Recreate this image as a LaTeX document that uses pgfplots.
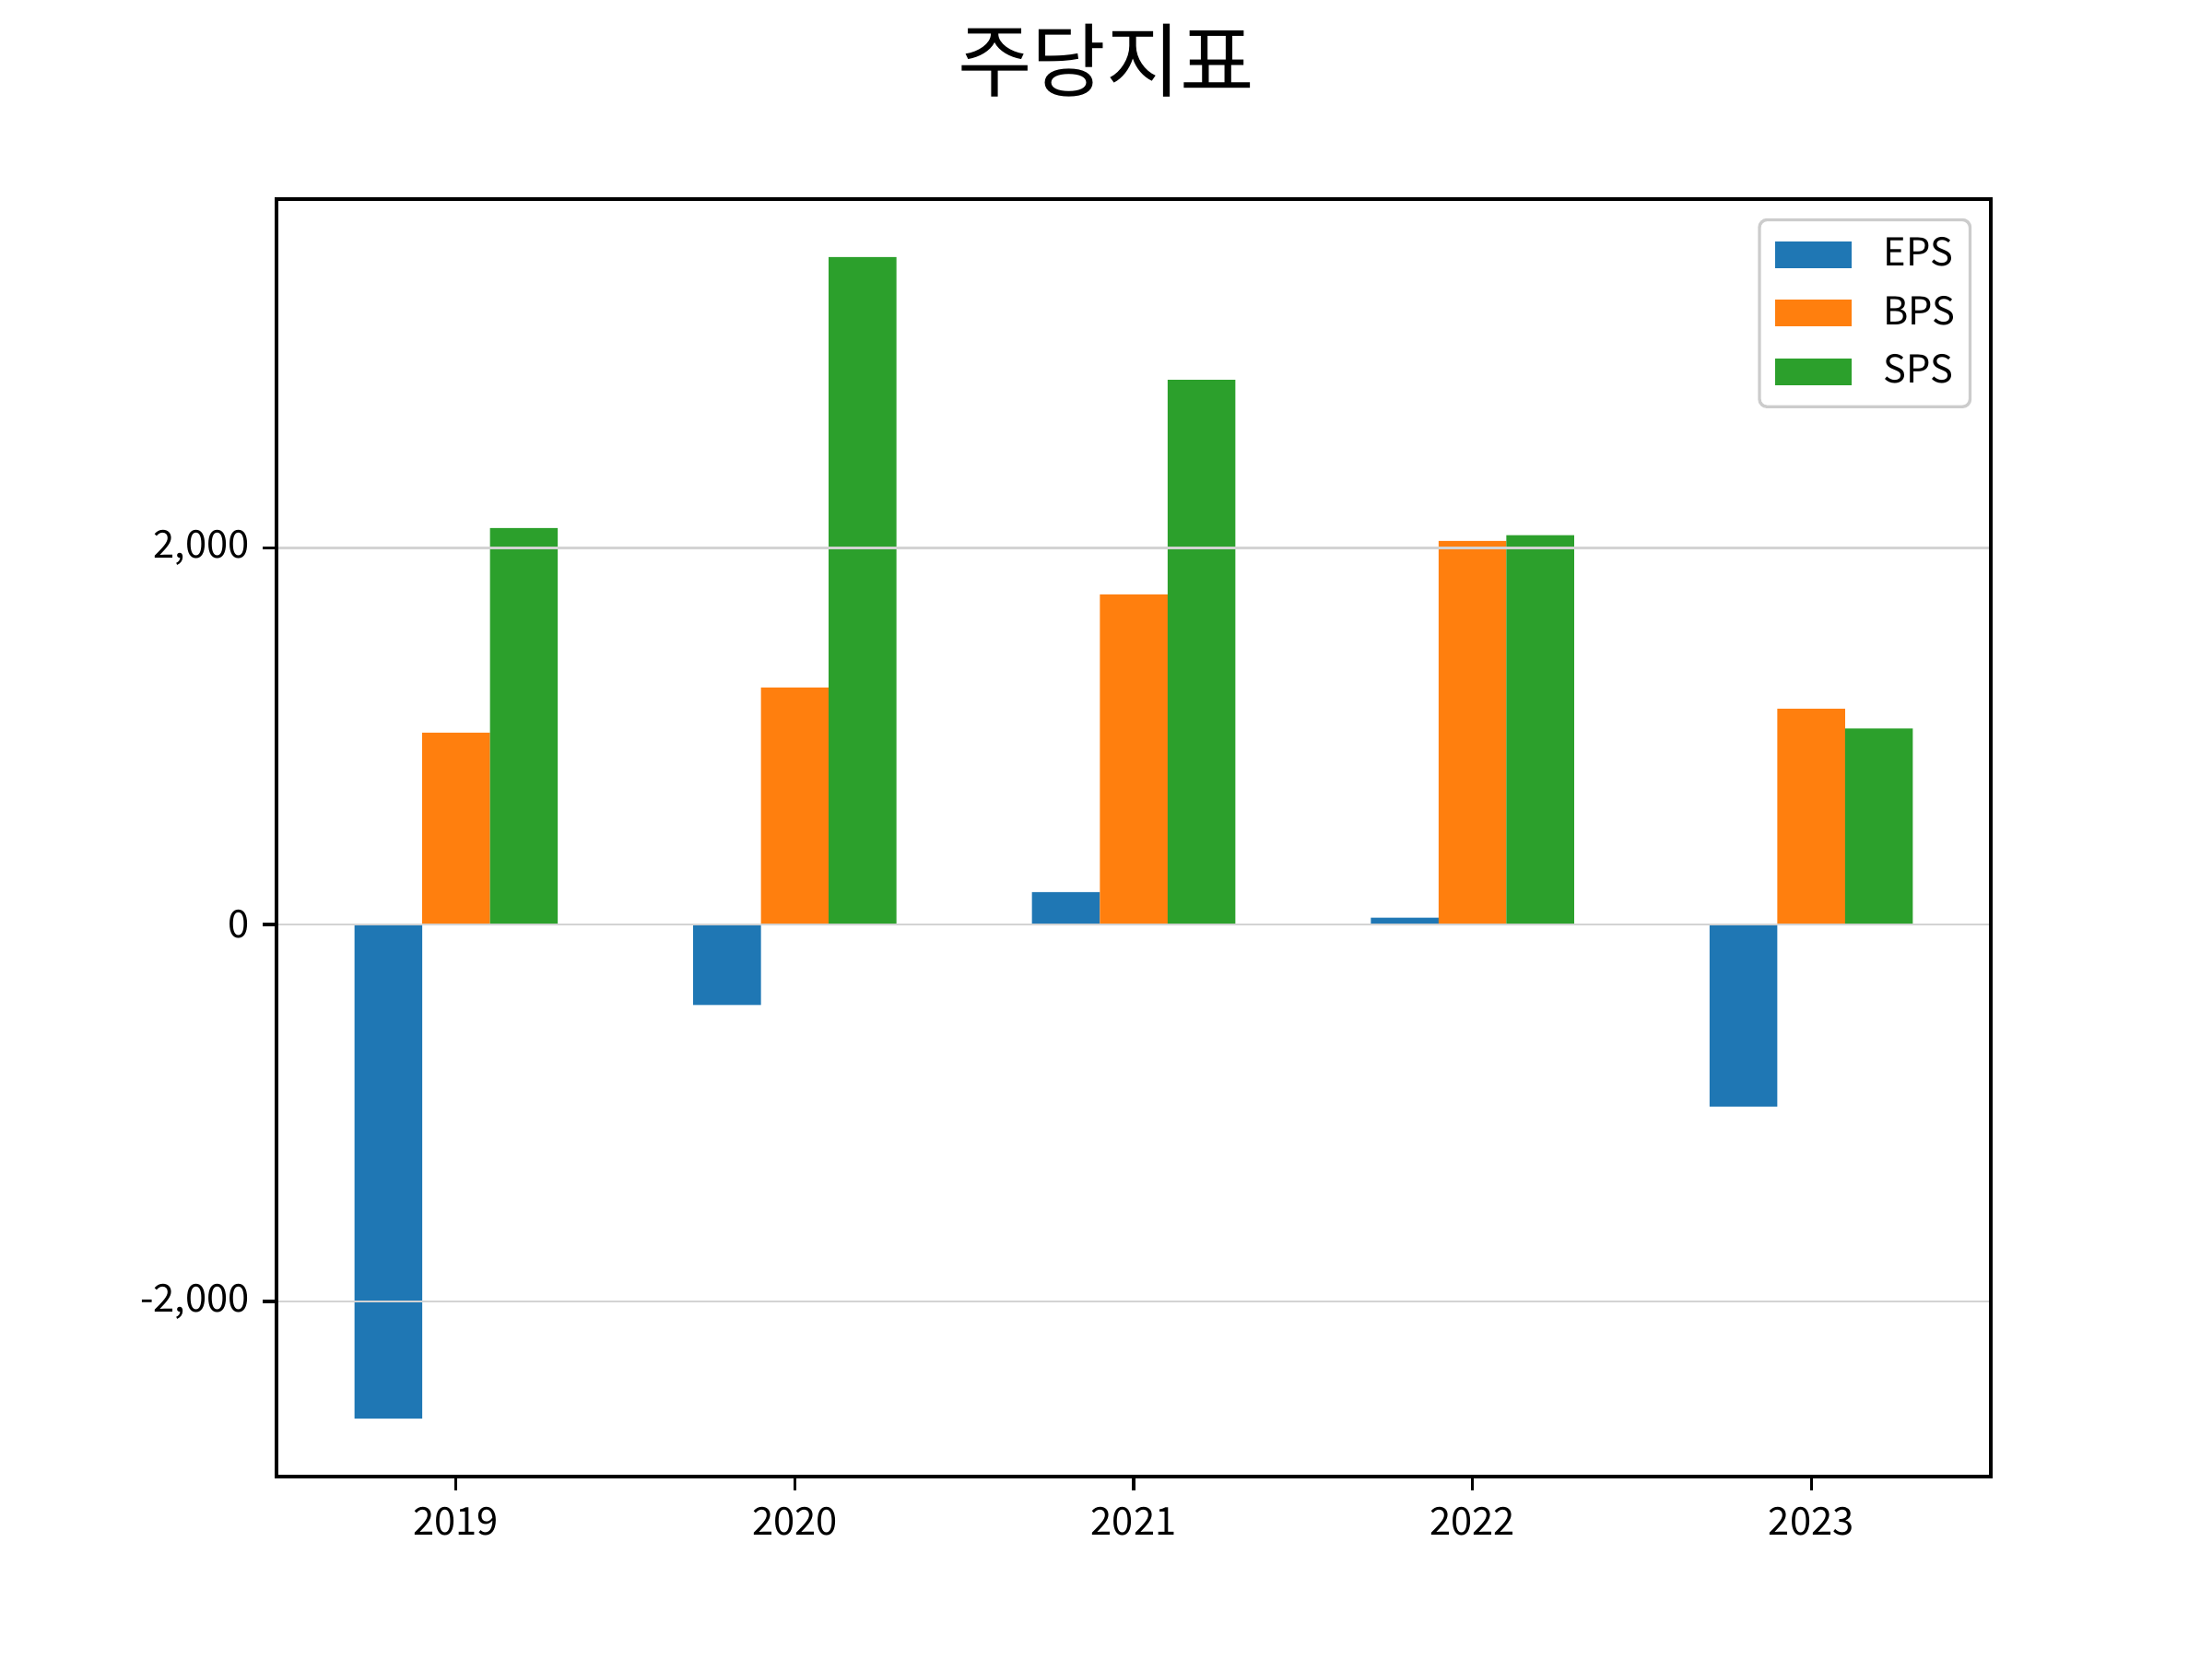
\documentclass[border=0pt]{standalone}
\usepackage{pgfplots}
\pgfplotsset{compat=1.18}
\usepackage{fontspec}
\setmainfont{Noto Sans CJK KR}
\definecolor{c0}{HTML}{1F77B4}
\definecolor{c1}{HTML}{FF7F0E}
\definecolor{c2}{HTML}{2CA02C}
\definecolor{gridc}{HTML}{D3D3D3}
\definecolor{legc}{HTML}{CCCCCC}
\begin{document}
\begin{tikzpicture}
\useasboundingbox (0,0) rectangle (576pt,432pt);
\node[anchor=north,font=\fontsize{21}{25}\selectfont,inner sep=0pt] at (288pt,426pt) {주당지표};
\begin{axis}[
  at={(72pt,47.52pt)}, anchor=south west,
  scale only axis, width=446.4pt, height=332.64pt,
  xmin=-0.53, xmax=4.53, ymin=-2930, ymax=3851,
  xtick={0,1,2,3,4}, xticklabels={2019,2020,2021,2022,2023},
  ytick={-2000,0,2000}, yticklabels={{-2,000},{0},{2,000}},
  tick align=outside, tick pos=left,
  major tick length=3.5pt,
  every tick/.style={black,line width=0.8pt},
  axis line style={line width=0.8pt},
  ticklabel style={font=\fontsize{10}{12}\selectfont},
  xticklabel style={yshift=-1pt},
  ymajorgrids, major grid style={gridc,line width=0.6pt},
  axis on top,
  ybar, bar width=0.2,
  legend style={at={(1,1)},anchor=north east,xshift=-5pt,yshift=-5pt,
    draw=legc,line width=0.8pt,rounded corners=2pt,
    font=\fontsize{10}{12}\selectfont,inner xsep=1.8pt,inner ysep=2.6pt,
    row sep=2.3pt},
  legend cell align=left,
  legend image code/.code={\path (-2.2pt,0pt); \path[#1,draw=none,sharp corners] (0pt,-3.5pt) rectangle (20pt,3.5pt); \path (26.3pt,0pt);},
]
\addplot[fill=c0,draw=none,bar shift=-0.2] coordinates {(0,-2622) (1,-427) (2,172) (3,37) (4,-966)};
\addplot[fill=c1,draw=none,bar shift=0] coordinates {(0,1019) (1,1258) (2,1753) (3,2037) (4,1146)};
\addplot[fill=c2,draw=none,bar shift=0.2] coordinates {(0,2105) (1,3543) (2,2891) (3,2067) (4,1041)};
\legend{EPS,BPS,SPS}
\end{axis}
\end{tikzpicture}
\end{document}
